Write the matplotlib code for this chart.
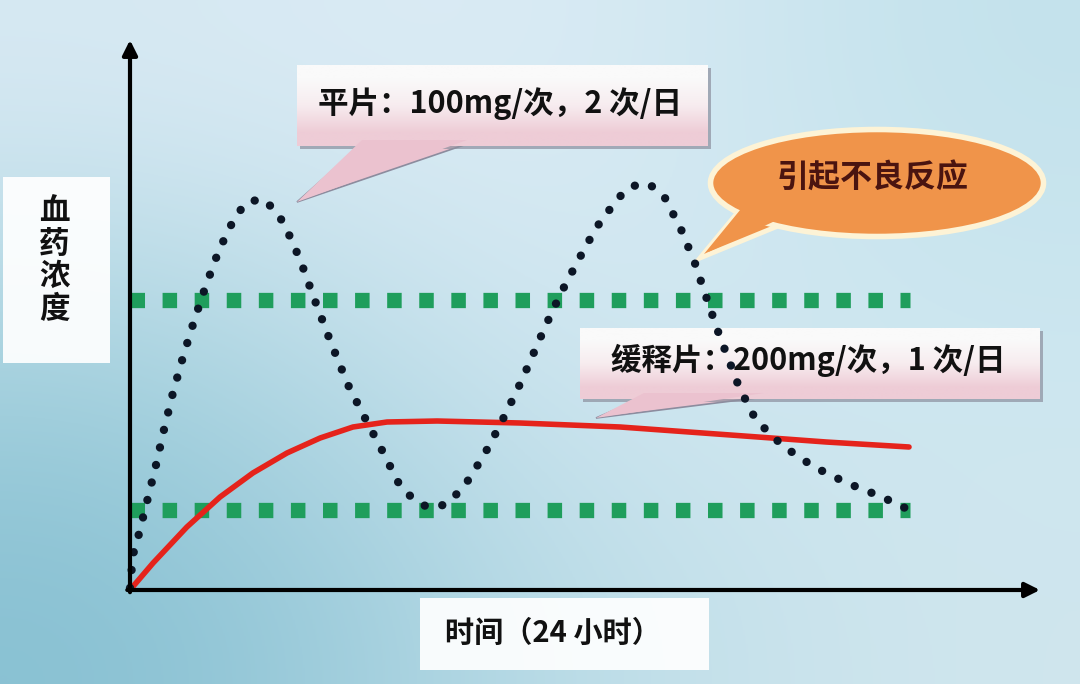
import numpy as np
import matplotlib
matplotlib.use("Agg")
import matplotlib.pyplot as plt
from matplotlib.patches import Rectangle, Polygon, Ellipse

plt.rcParams["font.family"] = ["Noto Sans CJK SC", "DejaVu Sans"]

# 平片 (immediate release): time in hours, concentration in arbitrary units
ir_time = [0.00, 0.09, 0.25, 0.52, 0.80, 1.05, 1.32, 1.63, 1.97, 2.34, 2.74,
           3.23, 3.60, 4.09, 4.52, 4.80, 5.05, 5.26, 5.66, 6.15, 6.71, 7.23,
           7.75, 8.28, 8.68, 9.14, 9.66, 10.09, 10.46, 11.05, 11.57, 12.06,
           12.77, 13.26, 13.78, 14.34, 15.02, 15.45, 15.97, 16.43, 16.95,
           17.38, 17.75, 18.12, 18.74, 19.26, 20.09, 21.05, 22.06, 23.14, 23.85]
ir_conc = [0.2, 3.5, 5.3, 8.8, 12.5, 16.1, 19.7, 23.3, 26.9, 30.5, 34.0,
           37.3, 38.8, 39.1, 37.8, 36.2, 34.4, 32.8, 29.2, 25.0, 20.5, 17.2,
           14.0, 10.6, 9.2, 8.3, 8.5, 9.7, 11.2, 14.4, 17.7, 21.0,
           26.3, 29.7, 32.9, 36.2, 39.2, 40.4, 40.6, 39.4, 36.1,
           32.7, 29.1, 25.6, 20.3, 17.0, 14.4, 12.3, 10.7, 9.3, 8.2]

# 缓释片 (sustained release)
sr_time = [0, 0.71, 1.75, 2.77, 3.78, 4.83, 5.85, 6.86, 7.91, 9.45, 12.0,
           15.08, 17.2, 19.32, 21.42, 23.97]
sr_conc = [0, 2.7, 6.3, 9.3, 11.7, 13.7, 15.2, 16.3, 16.8, 16.9, 16.7,
           16.3, 15.8, 15.3, 14.8, 14.3]

# toxic / minimum effective concentration levels
levels = [29, 8]
level_span = [0, 24]

W, H = 1080, 684
fig = plt.figure(figsize=(W / 100, H / 100), dpi=100)

# background gradient
bg = fig.add_axes([0, 0, 1, 1], zorder=0)
grid = np.array([
    [[215, 233, 243], [222, 237, 246], [195, 226, 236]],
    [[168, 211, 223], [214, 233, 243], [205, 231, 240]],
    [[135, 192, 210], [188, 221, 232], [208, 230, 238]],
]) / 255.0
bg.imshow(grid, extent=[0, W, H, 0], interpolation="bicubic", aspect="auto")
bg.set_xlim(0, W)
bg.set_ylim(H, 0)
bg.axis("off")

# callouts and label boxes (pixel coordinates, y down)
ov = fig.add_axes([0, 0, 1, 1], zorder=1)
ov.set_xlim(0, W)
ov.set_ylim(H, 0)
ov.axis("off")
ov.patch.set_alpha(0)

pink_grad = np.array([[250, 250, 250], [247, 236, 239], [238, 204, 214]])[:, None, :] / 255.0


def speech_box(x0, y0, x1, y1, tip, base):
    ov.add_patch(Polygon([base[0], base[1], tip], closed=True, fc=(0.92, 0.76, 0.81),
                         ec=(0.55, 0.55, 0.62), lw=1.2, zorder=2))
    ov.add_patch(Rectangle((x0 + 3, y0 + 3), x1 - x0, y1 - y0, fc=(0.55, 0.56, 0.62),
                           ec="none", alpha=0.7, zorder=3))
    ov.imshow(pink_grad, extent=[x0, x1, y1, y0], interpolation="bilinear",
              aspect="auto", zorder=4)
    ov.add_patch(Polygon([(base[0][0], base[0][1] - 4), (base[1][0], base[1][1] - 4),
                          tip], closed=True, fc=(0.92, 0.76, 0.81), ec="none", zorder=5))


speech_box(297, 65, 708, 146, (297, 202), [(362, 144), (467, 144)])
ov.text(500, 104, "平片：100mg/次，2 次/日", fontsize=22, fontweight="bold",
        ha="center", va="center", color="#111111", zorder=6)

speech_box(580, 328, 1040, 399, (596, 418), [(644, 397), (764, 397)])
ov.text(808, 360, "缓释片：200mg/次，1 次/日", fontsize=22, fontweight="bold",
        ha="center", va="center", color="#111111", zorder=6)

# orange ellipse bubble
orange = "#f0944a"
cream = "#fdf3d6"
ov.add_patch(Polygon([(738, 212), (778, 226), (700, 258)], closed=True, fc=orange,
                     ec=cream, lw=3.5, zorder=2))
ov.add_patch(Ellipse((877, 183), 333, 107, fc=orange, ec=cream, lw=4, zorder=3))
ov.add_patch(Polygon([(745, 204), (790, 214), (704, 254)], closed=True, fc=orange,
                     ec="none", zorder=4))
ov.text(873, 178, "引起不良反应", fontsize=23, fontweight="bold", ha="center",
        va="center", color="#4a1410", zorder=6)

# axis label boxes
ov.add_patch(Rectangle((3, 177), 107, 186, fc="white", ec="none", alpha=0.92, zorder=2))
ov.text(54, 260, "血\n药\n浓\n度", fontsize=22, fontweight="bold", ha="center",
        va="center", linespacing=1.03, color="#111111", zorder=6)
ov.add_patch(Rectangle((420, 598), 289, 72, fc="white", ec="none", alpha=0.92, zorder=2))
ov.text(553, 633, "时间（24 小时）", fontsize=21, fontweight="bold", ha="center",
        va="center", color="#111111", zorder=6)

# main chart axes: origin at pixel (130, 590)
ax = fig.add_axes([130 / W, (H - 590) / H, (1040 - 130) / W, (590 - 40) / H], zorder=2)
ax.patch.set_alpha(0)
ax.set_xlim(0, 28)
ax.set_ylim(0, 55)
ax.axis("off")

for lv in levels:
    ax.plot(level_span, [lv, lv], color="#1f9e5c", lw=11, solid_capstyle="butt",
            linestyle=(0, (0.95, 1.15)), dash_capstyle="butt", clip_on=False, zorder=1)

ax.plot(sr_time, sr_conc, color="#e5231b", lw=4, solid_capstyle="round",
        solid_joinstyle="round", clip_on=False, zorder=2)

ax.plot(ir_time, ir_conc, color="#0c1626", lw=6.0, linestyle=(0, (0.01, 2.15)),
        dash_capstyle="round", clip_on=False, zorder=3)

arrow = dict(arrowstyle="-|>", color="black", lw=3, mutation_scale=22,
             shrinkA=0, shrinkB=0)
ax.annotate("", xy=(0, 1), xytext=(0, -0.004), xycoords="axes fraction",
            arrowprops=arrow, zorder=4)
ax.annotate("", xy=(1, 0), xytext=(-0.003, 0), xycoords="axes fraction",
            arrowprops=arrow, zorder=4)

fig.savefig("out.png", dpi=100)
